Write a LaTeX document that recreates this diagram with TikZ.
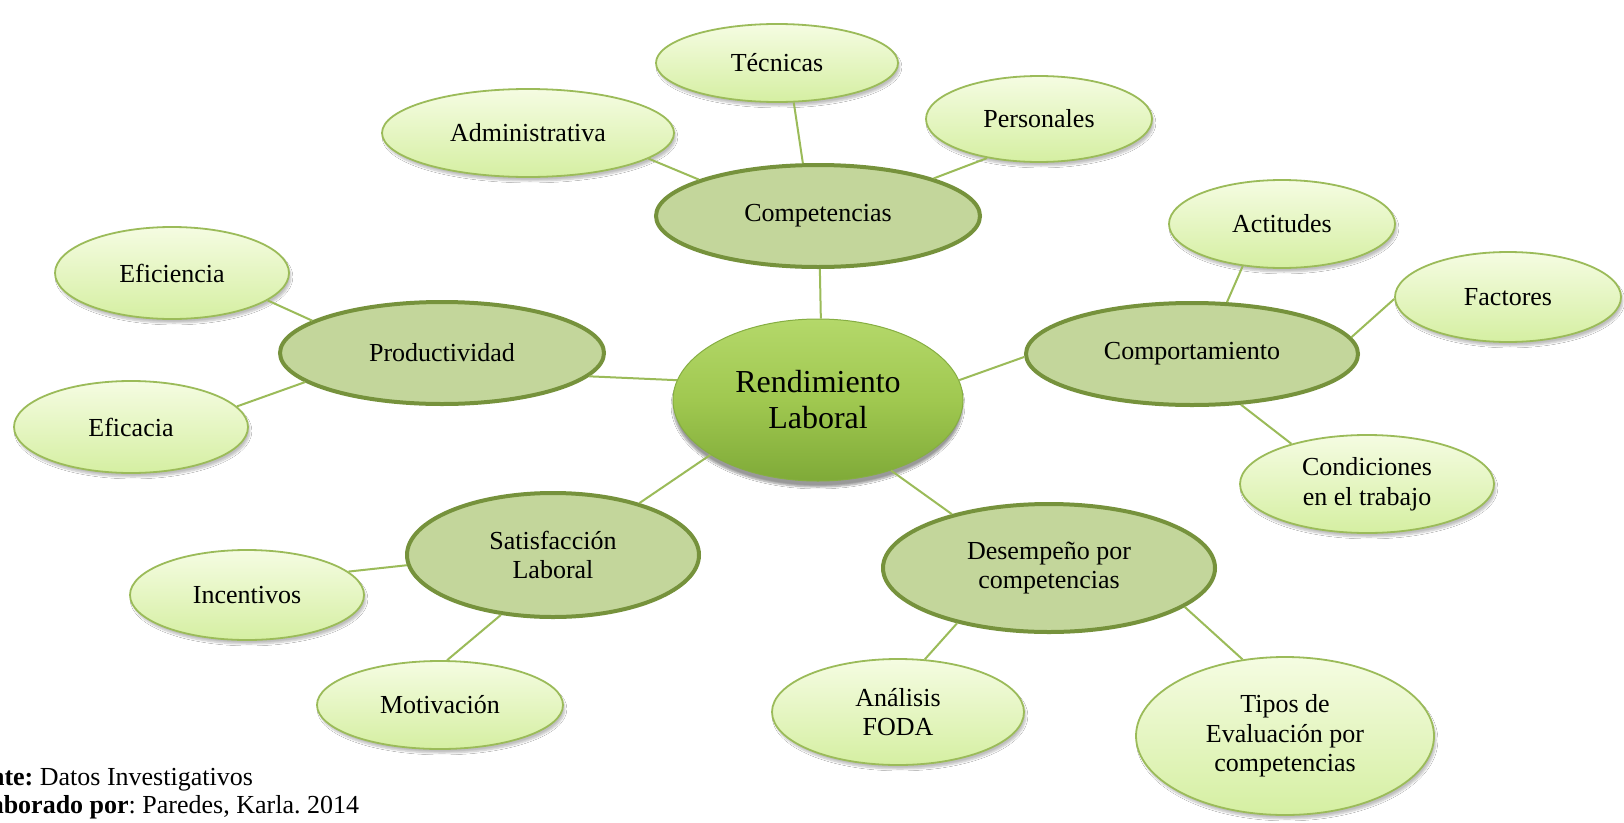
\documentclass[tikz,border=0pt]{standalone}
\usepackage{fontspec}
\setmainfont{Liberation Serif}
\frenchspacing
\usetikzlibrary{shapes.geometric,shadows.blur}

\definecolor{leafline}{HTML}{9BBB59}
\definecolor{leaftop}{HTML}{F5FCE2}
\definecolor{leafbot}{HTML}{D5EFA2}
\definecolor{midfill}{HTML}{C3D69B}
\definecolor{midline}{HTML}{76923C}
\definecolor{coretop}{HTML}{B4D86A}
\definecolor{coremid}{HTML}{A0C850}
\definecolor{corebot}{HTML}{7FAA38}
\definecolor{coreline}{HTML}{86AE42}

\tikzset{
  leaf/.style={ellipse, inner sep=0pt, align=center, draw=leafline, line width=1.8pt,
    top color=leaftop, bottom color=leafbot,
    blur shadow={shadow xshift=2pt, shadow yshift=-4pt, shadow blur steps=6, shadow opacity=25},
    font=\fontsize{26}{29.5}\selectfont},
  branch/.style={ellipse, inner sep=0pt, align=center, draw=midline, line width=4pt,
    fill=midfill, font=\fontsize{26}{29.5}\selectfont},
  core/.style={ellipse, inner sep=0pt, align=center, draw=coreline, line width=1pt,
    top color=coretop, bottom color=corebot, middle color=coremid,
    blur shadow={shadow xshift=0pt, shadow yshift=-6pt, shadow blur steps=8, shadow opacity=40},
    font=\fontsize{32}{36}\selectfont},
  link/.style={draw=leafline, line width=2pt},
  foot/.style={anchor=base west, inner sep=0pt, font=\fontsize{26}{28}\selectfont}
}

\begin{document}
\begin{tikzpicture}[x=1pt, y=-1pt]
\useasboundingbox (0,0) rectangle (1624,822);
\clip (0,0) rectangle (1624,822);
\fill[white] (0,0) rectangle (1624,822);

% centre
\node[core, minimum width=290pt, minimum height=162pt] (R) at (818,400) {Rendimiento\\Laboral};

% second level
\node[branch, minimum width=324pt, minimum height=102pt] (C) at (818,216) {Competencias};
\node[branch, minimum width=324pt, minimum height=102pt] (P) at (442,353) {Productividad};
\node[branch, minimum width=332pt, minimum height=102pt] (M) at (1192,354) {Comportamiento};
\node[branch, minimum width=292pt, minimum height=124pt] (S) at (553,555) {Satisfacción\\Laboral};
\node[branch, minimum width=332pt, minimum height=128pt] (D) at (1049,568) {Desempeño por\\competencias};

% outer level
\node[leaf, minimum width=242pt, minimum height=78pt] (T) at (777,63) {Técnicas};
\node[leaf, minimum width=292pt, minimum height=88pt] (A) at (528,133) {Administrativa};
\node[leaf, minimum width=226pt, minimum height=86pt] (Pe) at (1039,119) {Personales};
\node[leaf, minimum width=226pt, minimum height=88pt] (Ac) at (1282,224) {Actitudes};
\node[leaf, minimum width=226pt, minimum height=90pt] (F) at (1508,297) {Factores};
\node[leaf, minimum width=254pt, minimum height=98pt] (Co) at (1367,484) {Condiciones\\en el trabajo};
\node[leaf, minimum width=298pt, minimum height=158pt] (Ti) at (1285,736) {Tipos de\\Evaluación por\\competencias};
\node[leaf, minimum width=252pt, minimum height=106pt] (An) at (898,712) {Análisis\\FODA};
\node[leaf, minimum width=246pt, minimum height=88pt] (Mo) at (440,705) {Motivación};
\node[leaf, minimum width=234pt, minimum height=90pt] (I) at (247,595) {Incentivos};
\node[leaf, minimum width=234pt, minimum height=92pt] (Ef) at (172,273) {Eficiencia};
\node[leaf, minimum width=234pt, minimum height=92pt] (Ec) at (131,427) {Eficacia};

% connectors
\draw[link] (T.-67.7) -- (C.106.4);
\draw[link] (A.-12.5) -- (C.163);
\draw[link] (Pe.217.4) -- (C.18.3);
\draw[link] (C.-88) -- (R.88.5);
\draw[link] (P.-9.8) -- (R.172.3);
\draw[link] (Ef.-16.8) -- (P.166.3);
\draw[link] (Ec.11.9) -- (P.192.4);
\draw[link] (M.181.8) -- (R.8.1);
\draw[link] (Ac.227) -- (M.56);
\draw[link] (F.181.6) -- (M.6);
\draw[link] (Co.152.6) -- (M.-46.7);
\draw[link] (D.151.8) -- (R.-44.2);
\draw[link] (An.63.4) -- (D.211.8);
\draw[link] (Ti.119) -- (D.-16.7);
\draw[link] (S.31.4) -- (R.207.9);
\draw[link] (I.13) -- (S.184);
\draw[link] (Mo.81.3) -- (S.229.4);

% source lines, running past the left edge
\node[foot] (src) at (-52,785) {\textbf{Fuente:} Datos Investigativos};
\node[foot] (auth) at (-34,813) {\textbf{Elaborado por}: Paredes, Karla. 2014};
\end{tikzpicture}
\end{document}
